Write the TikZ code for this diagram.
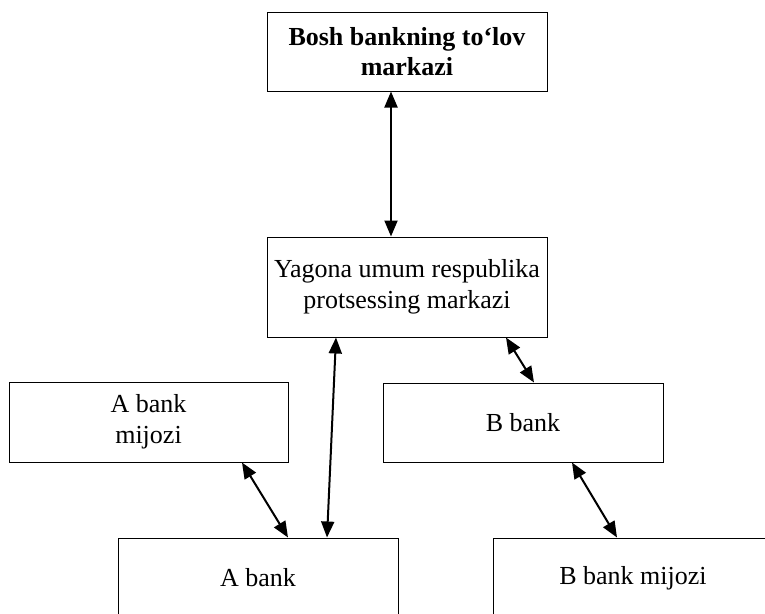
\documentclass[tikz,border=0pt]{standalone}
\usepackage{fontspec}
\setmainfont{Liberation Serif}
\usetikzlibrary{arrows.meta}
\begin{document}
\begin{tikzpicture}[x=1pt,y=-1pt,
  box/.style={draw,line width=1pt,minimum width=280pt,minimum height=80pt,
    inner sep=0pt,align=center,font=\fontsize{26}{31}\selectfont},
  link/.style={line width=2pt,{Triangle[length=16pt,width=13pt]}-{Triangle[length=16pt,width=13pt]}}]
\useasboundingbox (0,0) rectangle (765,613);
\clip (0,0) rectangle (765,613);

% boxes
\node[box,minimum height=79pt,font=\fontsize{26}{30}\selectfont\bfseries] (bosh) at (407,51.5) {Bosh bankning to‘lov\\markazi};
\node[box,minimum height=100pt] (yagona) at (407,287) {Yagona umum respublika\\protsessing markazi};
\node[box,minimum width=279pt] (amij) at (148.5,422) {A bank\\mijozi};
\node[box,minimum height=79pt] (bbank) at (523,422.5) {B bank};
\node[box] (abank) at (258,578) {A bank};
\node[box] (bmij) at (633,578) {B bank mijozi};

% connectors
\draw[link] ([xshift=-16pt]bosh.south) -- ([xshift=-16pt]yagona.north);
\draw[link] ([xshift=-71pt]yagona.south) -- ([xshift=69pt]abank.north);
\draw[link] ([xshift=93.5pt]amij.south) -- ([xshift=30pt]abank.north);
\draw[link] ([xshift=99pt]yagona.south) -- ([xshift=11pt]bbank.north);
\draw[link] ([xshift=49pt]bbank.south) -- ([xshift=-16pt]bmij.north);
\end{tikzpicture}
\end{document}
